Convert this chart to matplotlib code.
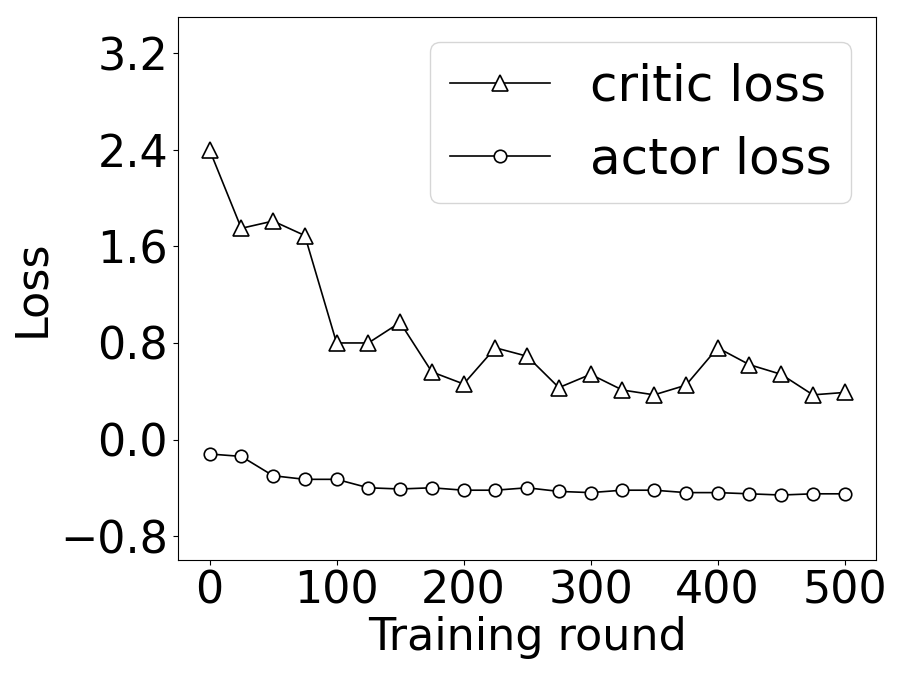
import matplotlib
matplotlib.use("Agg")
import matplotlib.pyplot as plt

rounds = [0, 25, 50, 75, 100, 125, 150, 175, 200, 225, 250,
          275, 300, 325, 350, 375, 400, 425, 450, 475, 500]
critic_loss = [2.40, 1.75, 1.81, 1.69, 0.80, 0.80, 0.97, 0.56, 0.46, 0.76, 0.69,
               0.43, 0.54, 0.41, 0.37, 0.45, 0.76, 0.62, 0.54, 0.37, 0.39]
actor_loss = [-0.12, -0.14, -0.30, -0.33, -0.33, -0.40, -0.41, -0.40, -0.42, -0.42, -0.40,
              -0.43, -0.44, -0.42, -0.42, -0.44, -0.44, -0.45, -0.46, -0.45, -0.45]
yticks = [-0.8, 0.0, 0.8, 1.6, 2.4, 3.2]
xticks = [0, 100, 200, 300, 400, 500]

fig = plt.figure(figsize=(8.98, 6.84), dpi=100)
ax = fig.add_axes([0.198, 0.181, 0.778, 0.794])

ax.plot(rounds, critic_loss, color="black", lw=1.2, marker="^", markersize=12,
        markerfacecolor="white", markeredgecolor="black", markeredgewidth=1.2,
        label="critic loss")
ax.plot(rounds, actor_loss, color="black", lw=1.2, marker="o", markersize=9,
        markerfacecolor="white", markeredgecolor="black", markeredgewidth=1.2,
        label="actor loss")

ax.set_xlim(-25, 525)
ax.set_ylim(-1.0, 3.5)
ax.set_xticks(xticks)
ax.set_yticks(yticks)
ax.set_yticklabels([f"{v:.1f}".replace("-", "\u2212") for v in yticks])
ax.tick_params(labelsize=32)
ax.set_xlabel("Training round", fontsize=32, labelpad=2)
ax.set_ylabel("Loss", fontsize=32, labelpad=5)
ax.legend(loc="upper right", fontsize=36, borderaxespad=0.5)

fig.savefig("out.png", dpi=100)
